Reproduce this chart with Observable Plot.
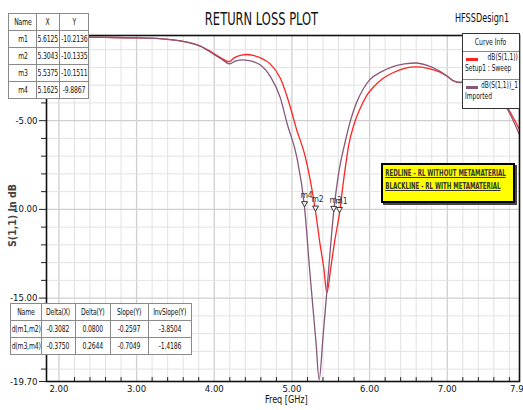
<!DOCTYPE html>
<html><head><meta charset="utf-8">
<script src="https://cdn.jsdelivr.net/npm/d3@7"></script>
<script src="https://cdn.jsdelivr.net/npm/@observablehq/plot@0.6"></script>
<style>
html,body{margin:0;padding:0;background:#fff;}
body{font-family:"Liberation Sans Narrow","DejaVu Sans Condensed","Liberation Sans",sans-serif;color:#111;}
#wrap{position:relative;width:523px;height:410px;overflow:hidden;}
#chart{position:absolute;left:0;top:0;}
.abs{position:absolute;}
#title{left:0;width:523px;top:9px;text-align:center;font-size:16px;transform:scale(0.8,1.12);}
#design{left:455px;top:11px;font-size:11px;transform:scale(0.82,1.15);transform-origin:left center;white-space:nowrap;}
table{border-collapse:collapse;background:#fff;font-size:8.5px;letter-spacing:-0.2px;table-layout:fixed;}
table td{border:1px solid #8a8a8a;text-align:center;padding:0;white-space:nowrap;}
table td span{display:inline-block;transform:scaleX(0.8);margin:0 -12px;}
table{border:1.5px solid #333;}
#mtab{left:8px;top:13px;width:80px;}
#mtab td{height:16px;}
#dtab{left:10px;top:303px;width:181px;}
#dtab td{height:16px;}
#legend{left:462px;top:33px;width:56px;height:74px;border:1.5px solid #333;background:#fff;font-size:8px;}
#legend .hd{height:17px;line-height:17px;text-align:center;border-bottom:1px solid #888;}
#legend .hd span{display:inline-block;transform:scaleX(0.85);}
#legend .it{position:relative;height:27px;border-bottom:1px solid #888;}
#legend .it:last-child{border-bottom:none;}
#legend .sw{position:absolute;left:3px;top:6px;width:12px;height:3px;}
#legend .l1{position:absolute;right:1px;top:1px;white-space:nowrap;transform:scaleX(0.82);transform-origin:right center;}
#legend .l2{position:absolute;left:2px;top:12px;white-space:nowrap;transform:scaleX(0.82);transform-origin:left center;}
#note{left:381px;top:163px;width:130px;height:36px;background:#ffff00;border:2px solid #000;box-shadow:2px 2px 0 #444;font-size:8px;font-weight:bold;color:#333;}
#note div{text-decoration:underline;padding-left:3px;margin-top:4px;white-space:nowrap;transform:scaleX(0.76);transform-origin:left center;}
#ylab{left:-28px;top:210px;width:80px;text-align:center;transform:rotate(-90deg) scaleX(1.05);font-size:10px;font-weight:bold;color:#444;white-space:nowrap;}
#xlab{left:265px;top:394px;font-size:10px;transform:scaleX(0.9);transform-origin:left center;white-space:nowrap;}
</style></head>
<body>
<div id="wrap">
<div id="chart"></div>
<div id="title" class="abs">RETURN LOSS PLOT</div>
<div id="design" class="abs">HFSSDesign1</div>
<div id="ylab" class="abs">S(1,1) In dB</div>
<div id="xlab" class="abs">Freq [GHz]</div>
<table id="mtab" class="abs"><colgroup><col style="width:28px"><col style="width:23px"><col style="width:29px"></colgroup><tbody></tbody></table>
<table id="dtab" class="abs"><colgroup><col style="width:31px"><col style="width:34px"><col style="width:35px"><col style="width:38px"><col style="width:43px"></colgroup><tbody></tbody></table>
<div id="legend" class="abs"></div>
<div id="note" class="abs"></div>
</div>
<script>
// ---- data ----
const freqRed = [1.84,2.2,2.6,3.0,3.3,3.56,3.82,3.99,4.1,4.19,4.26,4.35,4.42,4.5,4.59,4.72,4.85,4.97,5.06,5.17,5.3043,5.36,5.41,5.45,5.5,5.55,5.6125,5.67,5.73,5.8,5.88,5.96,6.05,6.18,6.3,6.45,6.6,6.75,6.9,7.0,7.08,7.17,7.26,7.35,7.45,7.6,7.78,7.93];
const dbRed   = [-0.30,-0.30,-0.31,-0.33,-0.38,-0.5,-0.8,-1.2,-1.5,-1.68,-1.45,-1.3,-1.27,-1.32,-1.45,-1.8,-2.6,-4.1,-5.5,-7.0,-10.1335,-11.9,-13.3,-14.7,-13.3,-11.8,-10.2136,-8.2,-6.4,-5.2,-4.3,-3.6,-3.1,-2.6,-2.3,-2.05,-1.97,-2.05,-2.25,-2.5,-2.76,-2.85,-2.65,-2.6,-2.75,-3.3,-4.3,-5.5];
const freqBlack = [1.84,2.2,2.6,3.0,3.3,3.56,3.82,3.99,4.1,4.19,4.27,4.36,4.45,4.52,4.59,4.72,4.85,4.94,5.06,5.1625,5.23,5.31,5.35,5.4,5.45,5.5375,5.6,5.68,5.76,5.83,5.92,6.0,6.15,6.3,6.45,6.6,6.75,6.9,7.0,7.08,7.17,7.26,7.35,7.45,7.6,7.78,7.93];
const dbBlack   = [-0.30,-0.30,-0.31,-0.33,-0.38,-0.5,-0.8,-1.25,-1.55,-1.8,-1.65,-1.57,-1.62,-1.7,-1.85,-2.5,-3.7,-5.2,-7.0,-9.8867,-13.5,-17.5,-19.6,-17.2,-14.6,-10.1511,-8.0,-6.3,-4.9,-4.0,-3.2,-2.7,-2.25,-1.95,-1.8,-1.75,-1.9,-2.2,-2.5,-2.76,-2.85,-2.65,-2.6,-2.75,-3.4,-4.4,-5.8];

const markerNames = ["m1","m2","m3","m4"];
const markerX = [5.6125,5.3043,5.5375,5.1625];
const markerY = [-10.2136,-10.1335,-10.1511,-9.8867];
const markerCurve = ["red","red","black","black"];

const deltaNames = ["d(m1,m2)","d(m3,m4)"];
const deltaX = ["-0.3082","-0.3750"];
const deltaY = ["0.0800","0.2644"];
const slopeY = ["-0.2597","-0.7049"];
const invSlopeY = ["-3.8504","-1.4186"];

const xTicks = [2,3,4,5,6,7,7.93];
const yTicks = [-5,-10,-15,-19.7];
const xDomain = [1.84,7.93];
const yDomain = [-19.7,-0.2];

const legendLabels = [["dB(S(1,1))","Setup1 : Sweep"],["dB(S(1,1))_1","Imported"]];
const noteLines = ["REDLINE -  RL WITHOUT METAMATERIAL","BLACKLINE -  RL WITH METAMATERIAL"];

// ---- build ----
const RED = "#ff2424", PURP = "#86587a";
const red = freqRed.map((f,i)=>({f, db: dbRed[i]}));
const blk = freqBlack.map((f,i)=>({f, db: dbBlack[i]}));
const markers = markerNames.map((n,i)=>({n, f: markerX[i], db: markerY[i], c: markerCurve[i]}));

const xGrid = d3.range(2, 7.95, 0.2).map(v=>+v.toFixed(2));
const xMinor = xGrid.filter(v=>Math.abs(v-Math.round(v))>0.01);
const xMajor = xGrid.filter(v=>Math.abs(v-Math.round(v))<0.01);
const yGrid = d3.range(-1,-19.5,-1);
const yMinor = yGrid.filter(v=>v%5!==0);

const chart = Plot.plot({
  width: 523, height: 410,
  marginLeft: 46, marginRight: 4, marginTop: 35, marginBottom: 29,
  style: {fontFamily: '"Liberation Sans Narrow","DejaVu Sans Condensed",sans-serif', fontSize: "10px", color: "#111", background: "#fff"},
  x: {domain: xDomain},
  y: {domain: yDomain},
  marks: [
    Plot.ruleX(xMinor, {stroke: "#e2e2e2", strokeWidth: 1}),
    Plot.ruleX(xMajor, {stroke: "#cfcfcf", strokeWidth: 1.3}),
    Plot.ruleY(yMinor, {stroke: "#e2e2e2", strokeWidth: 1}),
    Plot.ruleY([-5,-10,-15], {stroke: "#cfcfcf", strokeWidth: 1.3}),
    Plot.ruleX(xMinor, {y1: yDomain[0], y2: yDomain[0]+0.22, stroke: "#222"}),
    Plot.axisX(xTicks, {tickSize: 0, tickPadding: 4, tickFormat: d=>d.toFixed(2), fontSize: 9.5, label: null}),
    Plot.axisY(yTicks, {tickSize: 7, tickPadding: 2, tickFormat: d=>d.toFixed(2), fontSize: 9.5, label: null, stroke: "#222"}),
    Plot.axisY(yMinor, {tickSize: 5, tickFormat: ()=>"", label: null, stroke: "#222"}),
    Plot.line(red, {x: "f", y: "db", stroke: RED, strokeWidth: 1.3, curve: "monotone-x"}),
    Plot.line(blk, {x: "f", y: "db", stroke: PURP, strokeWidth: 1.3, curve: "monotone-x"}),
    Plot.dot(markers, {x: "f", y: "db", symbol: "triangle", r: 2.2, rotate: 180, dy: -4, stroke: "#333", fill: "#fff", strokeWidth: 1}),
    Plot.text(markers, {x: "f", y: "db", text: "n", dy: -12, dx: 2, fontSize: 8.5, fill: "#333"}),
    Plot.frame({stroke: "#111", strokeWidth: 1.6})
  ]
});
document.getElementById("chart").appendChild(chart);

const cell = v => `<td><span>${v}</span></td>`;
// marker table
document.querySelector("#mtab tbody").innerHTML = "<tr>" + ["Name","X","Y"].map(cell).join("") + "</tr>" +
  markerNames.map((n,i)=>"<tr>" + [n, markerX[i].toFixed(4), markerY[i].toFixed(4)].map(cell).join("") + "</tr>").join("");
// delta table
document.querySelector("#dtab tbody").innerHTML = "<tr>" + ["Name","Delta(X)","Delta(Y)","Slope(Y)","InvSlope(Y)"].map(cell).join("") + "</tr>" +
  deltaNames.map((n,i)=>"<tr>" + [n, deltaX[i], deltaY[i], slopeY[i], invSlopeY[i]].map(cell).join("") + "</tr>").join("");
// legend
const lg = document.getElementById("legend");
lg.innerHTML = `<div class="hd"><span>Curve Info</span></div>` + legendLabels.map((l,i)=>
  `<div class="it"><div class="sw" style="background:${i===0?RED:PURP}"></div><div class="l1">${l[0]}</div><div class="l2">${l[1]}</div></div>`).join("");
// note
document.getElementById("note").innerHTML = noteLines.map(t=>`<div>${t}</div>`).join("");
</script>
</body></html>
